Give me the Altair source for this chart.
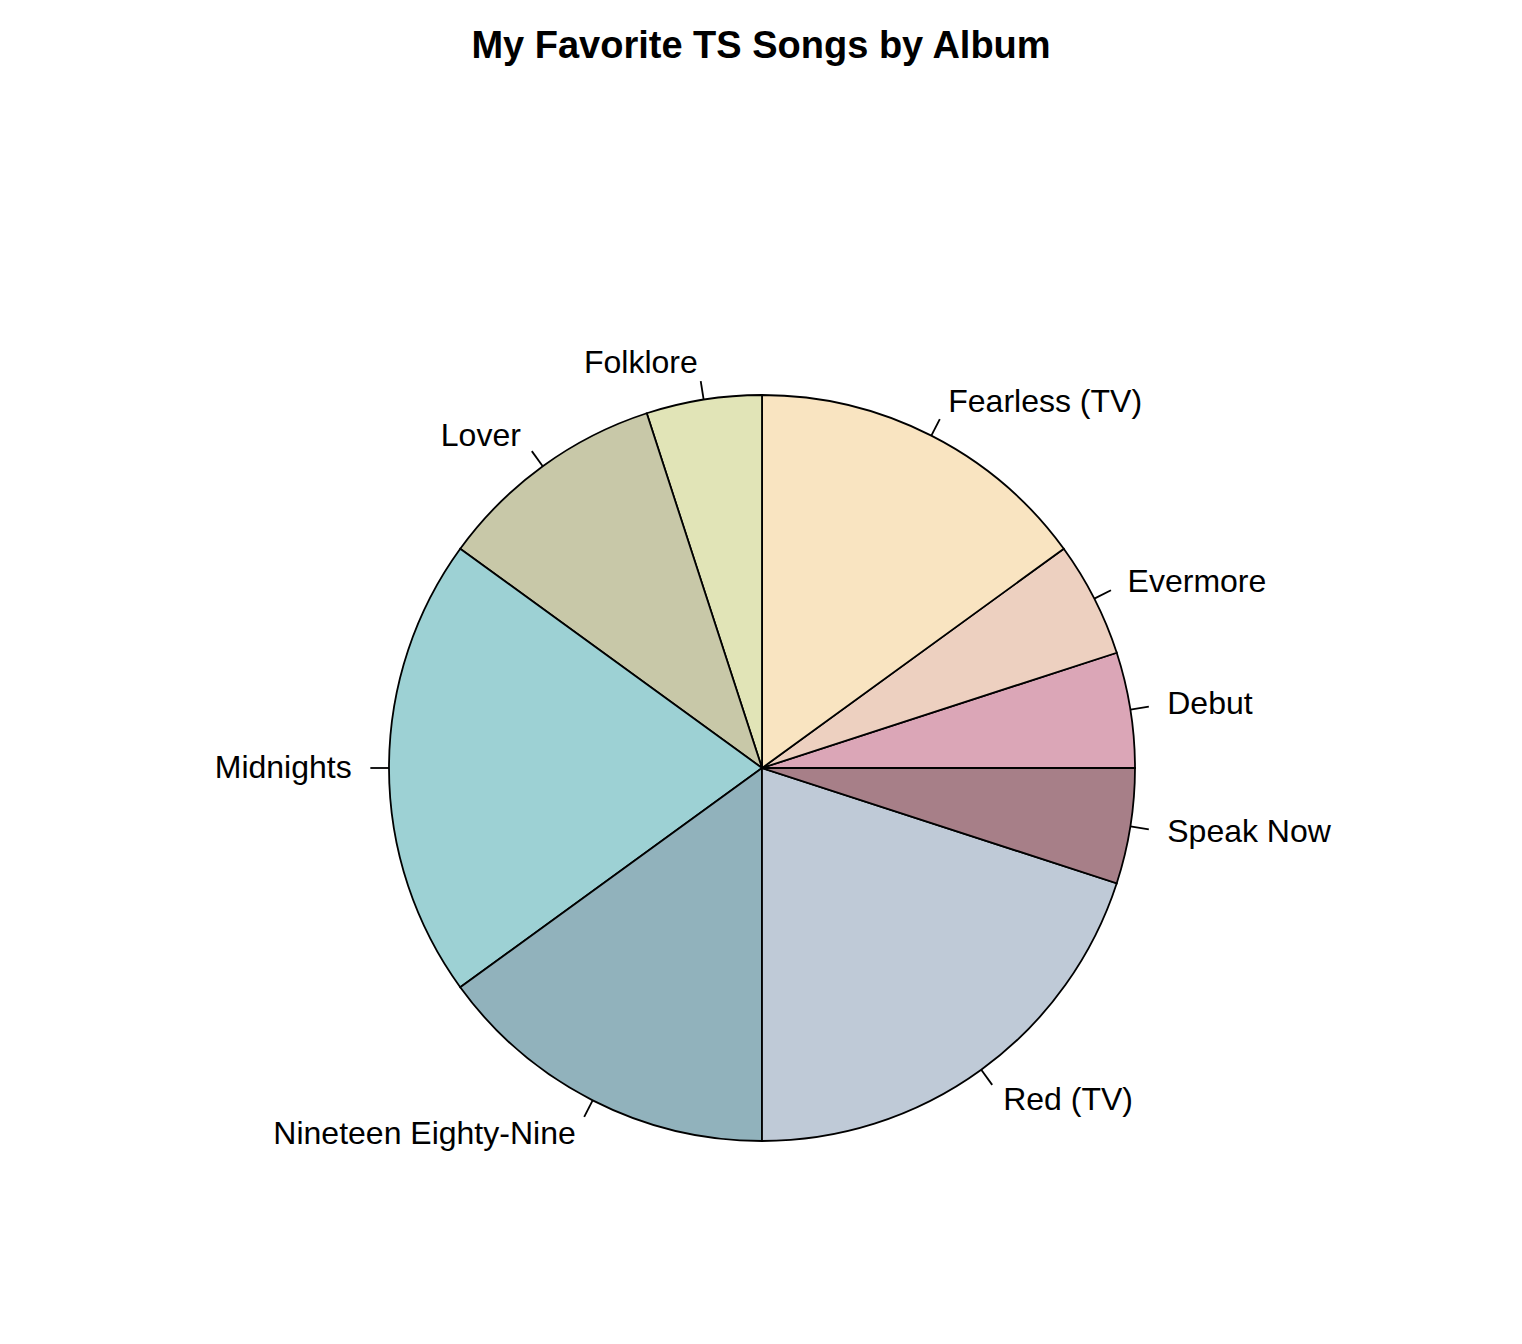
import altair as alt
import pandas as pd

albums = ["Debut", "Evermore", "Fearless (TV)", "Folklore", "Lover",
          "Midnights", "Nineteen Eighty-Nine", "Red (TV)", "Speak Now"]
counts = [1, 1, 3, 1, 2, 4, 3, 4, 1]
colors = ["#DBA6B7", "#EDD0C0", "#F9E4C1", "#E1E4B7", "#C8C8A8",
          "#9DD1D4", "#91B2BC", "#BFCAD7", "#A77F88"]

df = pd.DataFrame({"album": albums, "count": counts, "idx": list(range(len(albums)))})

W, H = 1522, 1244
CX, CY, R = 762, 668, 373
FONT = "Liberation Sans"
PI = 3.141592653589793

base = alt.Chart(df).transform_joinaggregate(
    total="sum(count)"
).transform_window(
    cum="sum(count)", sort=[alt.SortField("idx", order="ascending")], frame=[None, 0]
).transform_calculate(
    mid="2*PI*(datum.cum - datum.count/2)/datum.total",
).transform_calculate(
    cx="cos(datum.mid)", cy="sin(datum.mid)"
).transform_calculate(
    x1="datum.cx", y1="datum.cy",
    x2="1.05*datum.cx", y2="1.05*datum.cy",
    lx="1.1*datum.cx", ly="1.1*datum.cy",
)

xs = alt.Scale(domain=[-1, 1], range=[CX - R, CX + R])
ys = alt.Scale(domain=[-1, 1], range=[CY + R, CY - R])

pie = alt.Chart(df).mark_arc(radius=R, stroke="black", strokeWidth=1.8).encode(
    theta=alt.Theta("count:Q", stack=True,
                    scale=alt.Scale(range=[PI / 2, PI * 2.5])),
    order=alt.Order("idx:Q", sort="descending"),
    color=alt.Color("album:N", scale=alt.Scale(domain=albums, range=colors), legend=None),
    x=alt.value(CX), y=alt.value(CY),
)

ticks = base.mark_rule(color="black", strokeWidth=1.8).encode(
    x=alt.X("x1:Q", scale=xs, axis=None),
    y=alt.Y("y1:Q", scale=ys, axis=None),
    x2="x2:Q", y2="y2:Q",
)

right = base.transform_filter("datum.cx >= 0").mark_text(
    align="left", baseline="middle", font=FONT, fontSize=32, color="black"
).encode(
    x=alt.X("lx:Q", scale=xs, axis=None),
    y=alt.Y("ly:Q", scale=ys, axis=None),
    text="album:N",
)

left = base.transform_filter("datum.cx < 0").mark_text(
    align="right", baseline="middle", font=FONT, fontSize=32, color="black"
).encode(
    x=alt.X("lx:Q", scale=xs, axis=None),
    y=alt.Y("ly:Q", scale=ys, axis=None),
    text="album:N",
)

chart = alt.layer(pie, ticks, right, left).properties(
    width=W, height=H,
    title=alt.TitleParams("My Favorite TS Songs by Album", font=FONT, fontSize=38,
                          fontWeight="bold", anchor="middle", color="black",
                          baseline="alphabetic", offset=4),
    autosize=alt.AutoSizeParams(type="none"),
    padding={"top": 100, "left": 0, "right": 0, "bottom": 0},
).configure(background="white").configure_view(strokeWidth=0, stroke=None)

chart.save("out.html", embed_options={"renderer": "svg", "actions": False})
